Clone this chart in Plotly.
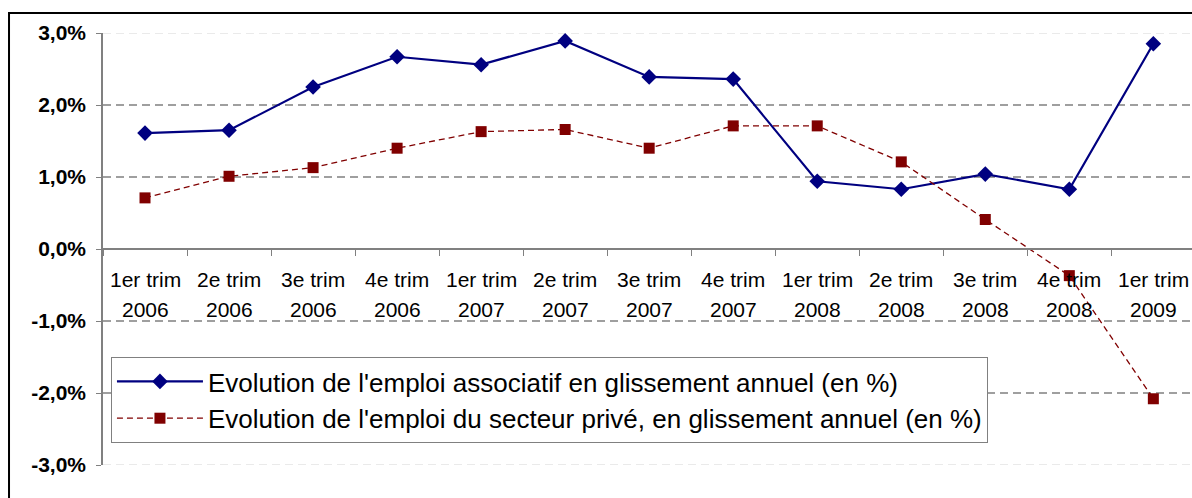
import plotly.graph_objects as go

quarters = ["1er trim", "2e trim", "3e trim", "4e trim"] * 3 + ["1er trim"]
years = ["2006"] * 4 + ["2007"] * 4 + ["2008"] * 4 + ["2009"]
categories = [f"{q} {y}" for q, y in zip(quarters, years)]

emploi_associatif = [1.61, 1.65, 2.25, 2.67, 2.56, 2.89, 2.39, 2.36, 0.94, 0.83, 1.04, 0.83, 2.85]
emploi_prive = [0.71, 1.01, 1.13, 1.40, 1.63, 1.66, 1.40, 1.71, 1.71, 1.21, 0.41, -0.37, -2.08]

series_names = [
    "Evolution de l'emploi associatif en glissement annuel (en %)",
    "Evolution de l'emploi du secteur privé, en glissement annuel (en %)",
]

y_ticks = [-3, -2, -1, 0, 1, 2, 3]
y_ticktext = ["-3,0%", "-2,0%", "-1,0%", "0,0%", "1,0%", "2,0%", "3,0%"]

fig = go.Figure()

fig.add_trace(go.Scatter(
    x=categories, y=emploi_associatif, name=series_names[0],
    mode="lines+markers", legendgroup="a",
    line=dict(color="#000080", width=2.2),
    marker=dict(symbol="diamond", size=12, color="#000080"),
))
fig.add_trace(go.Scatter(
    x=categories, y=emploi_prive, name=series_names[1],
    mode="lines+markers", legendgroup="b",
    line=dict(color="#800000", width=1.3, dash="6px,4px"),
    marker=dict(symbol="square", size=11, color="#800000"),
))

shapes = []
for v in y_ticks:
    if v == 0:
        continue
    light = abs(v) == 3
    shapes.append(dict(
        type="line", xref="paper", yref="y", x0=0, x1=1, y0=v, y1=v,
        line=dict(color="#e4e4e4" if light else "#808080", width=1.5, dash="8px,5px"),
        layer="below",
    ))
# outer chart frame
shapes.append(dict(
    type="rect", xref="paper", yref="paper", x0=-0.0863, x1=1.02, y0=-0.2, y1=1.0463,
    line=dict(color="#000000", width=2), fillcolor="rgba(0,0,0,0)", layer="above",
))

annotations = []
for c, q, y in zip(categories, quarters, years):
    annotations.append(dict(x=c, y=0, xref="x", yref="y", text=q, showarrow=False,
                            yshift=-30, yanchor="middle",
                            font=dict(family="Arial, Liberation Sans", size=21, color="#000000")))
    annotations.append(dict(x=c, y=0, xref="x", yref="y", text=y, showarrow=False,
                            yshift=-60, yanchor="middle",
                            font=dict(family="Arial, Liberation Sans", size=21, color="#000000")))

fig.update_layout(
    width=1192, height=498,
    margin=dict(l=103, r=0, t=33, b=33),
    paper_bgcolor="white", plot_bgcolor="white",
    font=dict(family="Arial, Liberation Sans", color="#000000"),
    showlegend=True,
    legend=dict(
        x=0.0073, y=0.25, xanchor="left", yanchor="top",
        bordercolor="#808080", borderwidth=1, bgcolor="white",
        font=dict(size=26, family="Arial, Liberation Sans"),
        itemwidth=86, tracegroupgap=0,
    ),
    xaxis=dict(
        type="category", range=[-0.5, 12.46],
        anchor="free", position=0.5,
        showline=True, linecolor="#808080", linewidth=1.5,
        ticks="outside", ticklen=6, tickcolor="#808080", tickson="boundaries",
        showticklabels=False, showgrid=False, zeroline=False,
    ),
    yaxis=dict(
        range=[-3, 3], tickvals=y_ticks, ticktext=y_ticktext,
        showline=True, linecolor="#808080", linewidth=1.5,
        ticks="outside", ticklen=5, tickcolor="#808080",
        ticklabelstandoff=6,
        tickfont=dict(size=21, family="Arial, Liberation Sans", color="#000000", weight="bold"),
        showgrid=False, zeroline=False,
    ),
    shapes=shapes,
    annotations=annotations,
)

fig.write_html("out.html", config={"displayModeBar": False},
               post_script="document.body.style.margin='0';")
